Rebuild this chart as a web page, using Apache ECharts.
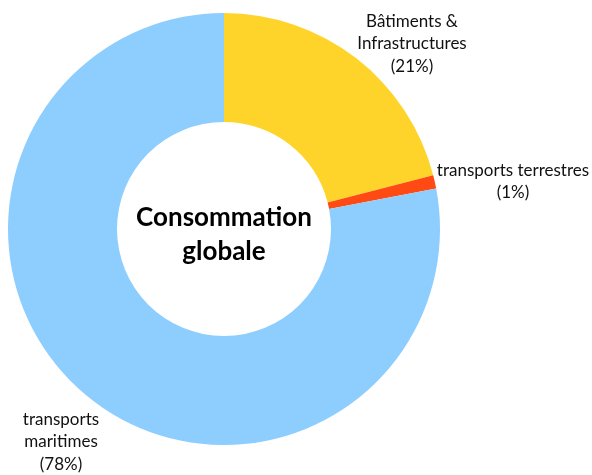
<!DOCTYPE html>
<html>
<head>
<meta charset="utf-8">
<script src="https://cdn.jsdelivr.net/npm/echarts@6/dist/echarts.min.js"></script>
<style>
html,body{margin:0;padding:0;background:#fff;}
#chart{width:592px;height:475px;}
</style>
</head>
<body>
<div id="chart"></div>
<script>
// Energy consumption split by sector
const categories = ['Bâtiments &\nInfrastructures', 'transports terrestres', 'transports\nmaritimes'];
const shares = [21, 1, 78];
const colors = ['#FFD42A', '#FF4A14', '#8ECEFF'];
const centerTitle = 'Consommation\nglobale';

// label anchor points (x, y of the first line top)
const labelSpots = [[412, 10], [513, 159], [61, 408]];

const chart = echarts.init(document.getElementById('chart'));
chart.setOption({
  backgroundColor: '#ffffff',
  animation: false,
  graphic: [{
    type: 'text',
    z: 100,
    x: 224,
    y: 235,
    style: {
      text: centerTitle,
      fontFamily: 'Lato, "Open Sans", sans-serif',
      fontWeight: 'bold',
      fontSize: 26,
      lineHeight: 34,
      fill: '#000',
      align: 'center',
      verticalAlign: 'middle'
    }
  }],
  series: [{
    type: 'pie',
    center: [224, 229],
    radius: [107, 216],
    startAngle: 90,
    clockwise: true,
    silent: true,
    data: categories.map((name, i) => ({
      name: name,
      value: shares[i],
      itemStyle: { color: colors[i] }
    })),
    label: {
      show: true,
      formatter: p => p.name + '\n(' + p.value + '%)',
      fontFamily: 'Lato, "Open Sans", sans-serif',
      fontSize: 17,
      lineHeight: 22.5,
      color: '#111',
      align: 'center',
      overflow: 'none',
      width: 300
    },
    labelLine: { show: false },
    labelLayout: function (params) {
      const s = labelSpots[params.dataIndex];
      return { x: s[0], y: s[1], align: 'center', verticalAlign: 'top', hideOverlap: false };
    }
  }]
});
</script>
</body>
</html>
